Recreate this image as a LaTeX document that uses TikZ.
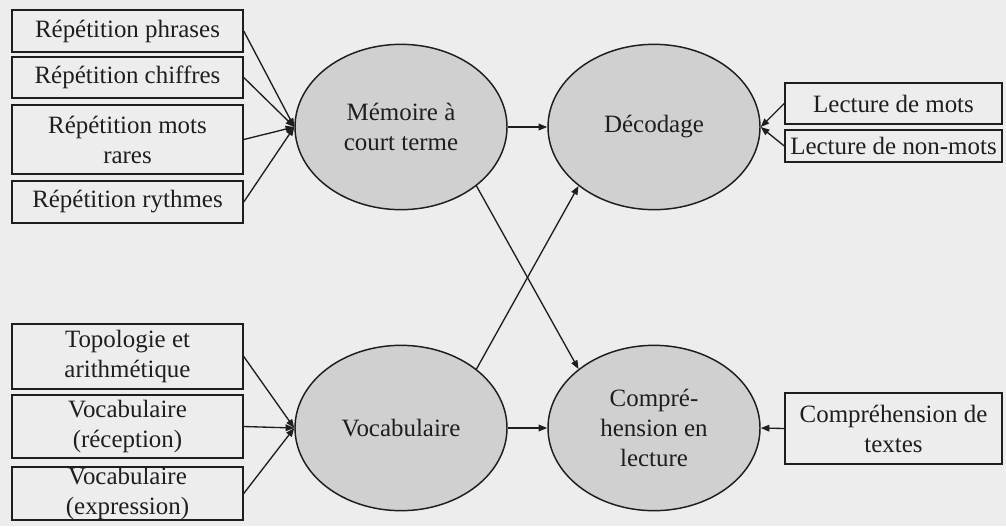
\documentclass[tikz,border=0pt]{standalone}
\usepackage{fontspec}
\setmainfont{Liberation Serif}
\usetikzlibrary{shapes.geometric,arrows.meta}
\definecolor{paper}{HTML}{EDEDED}
\definecolor{latent}{HTML}{D0D0D0}
\definecolor{ink}{HTML}{1E1E1E}
\tikzset{
  indicator/.style={draw=ink, line width=1.1pt, fill=paper, text=ink,
    align=center, inner sep=0pt, font=\fontsize{18.7}{22.5}\selectfont},
  leftbox/.style={indicator, minimum width=173.25pt},
  rightbox/.style={indicator, minimum width=162.75pt},
  factor/.style={ellipse, draw=ink, line width=1.1pt, fill=latent, text=ink,
    align=center, inner sep=0pt, minimum width=159pt, minimum height=124pt,
    font=\fontsize{18.7}{22.5}\selectfont},
  link/.style={draw=ink, line width=1pt, -{Triangle[length=6.5pt,width=5pt]}}
}
\begin{document}
\begin{tikzpicture}[x=0.75pt, y=-0.75pt]
  \fill[paper] (0,0) rectangle (1006,526);
  \useasboundingbox (0,0) rectangle (1006,526);

  % latent factors
  \node[factor] (mem)   at (401,127) {Mémoire à\\court terme};
  \node[factor] (dec)   at (654,127) {Décodage};
  \node[factor] (voc)   at (401,428) {Vocabulaire};
  \node[factor] (comp)  at (654,428) {Compré-\\hension en\\lecture};

  % indicators of short-term memory
  \node[leftbox, minimum height=31.5pt]  (r1) at (127.5,31)    {Répétition phrases};
  \node[leftbox, minimum height=30.75pt] (r2) at (127.5,77.5)  {Répétition chiffres};
  \node[leftbox, minimum height=51.75pt] (r3) at (127.5,139.5) {Répétition mots\\rares};
  \node[leftbox, minimum height=31.5pt]  (r4) at (127.5,202)   {Répétition rythmes};

  % indicators of vocabulary
  \node[leftbox, minimum height=48.75pt] (v1) at (127.5,356.5) {Topologie et\\arithmétique};
  \node[leftbox, minimum height=47.25pt] (v2) at (127.5,426.5) {Vocabulaire\\(réception)};
  \node[leftbox, minimum height=39.75pt] (v3) at (127.5,493.5) {Vocabulaire\\(expression)};

  % reading indicators
  \node[rightbox, minimum height=30.75pt] (l1) at (893.5,103.5) {Lecture de mots};
  \node[rightbox, minimum height=24pt]    (l2) at (893.5,146)   {Lecture de non-mots};
  \node[rightbox, minimum height=53.25pt] (ct) at (893.5,428.5) {Compréhension de\\textes};

  % measurement links
  \foreach \b in {r1,r2,r3,r4} \draw[link] (\b.east) -- (mem.west);
  \foreach \b in {v1,v2,v3} \draw[link] (\b.east) -- (voc.west);
  \foreach \b in {l1,l2} \draw[link] (\b.west) -- (dec.east);
  \draw[link] (ct.west) -- (comp.east);

  % structural paths
  \draw[link] (mem.east) -- (dec.west);
  \draw[link] (voc.east) -- (comp.west);
  \draw[link] (mem.-38) -- (comp.142);
  \draw[link] (voc.38) -- (dec.218);
\end{tikzpicture}
\end{document}
